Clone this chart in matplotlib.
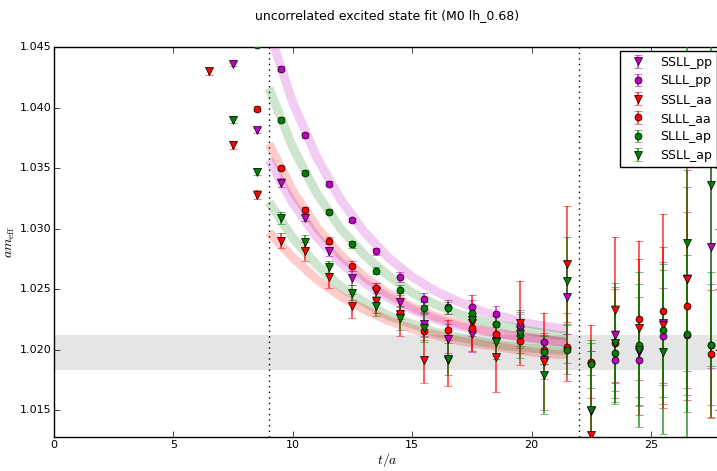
import numpy as np
import matplotlib
matplotlib.use('Agg')
import matplotlib.pyplot as plt

plt.style.use('classic')
plt.rcParams['font.family'] = ['DejaVu Sans']

nan = np.nan

# t/a values of the effective mass points
t = [6.5, 7.5, 8.5, 9.5, 10.5, 11.5, 12.5, 13.5, 14.5, 15.5, 16.5,
     17.5, 18.5, 19.5, 20.5, 21.5, 22.5, 23.5, 24.5, 25.5, 26.5, 27.5]

ssll_pp = [nan, 1.0436, 1.0381, 1.0338, 1.0309, 1.0281, 1.0259, 1.0248, 1.0239, 1.0221, 1.0209,
           1.0213, 1.0207, 1.0216, 1.0191, 1.0243, 1.0149, 1.0212, 1.0198, 1.0222, 1.0258, 1.0285]
ssll_pp_err = [nan, 0.0002, 0.0002, 0.0004, 0.0003, 0.0004, 0.0006, 0.0007, 0.0009, 0.0010, 0.0012,
               0.0015, 0.0012, 0.0015, 0.0015, 0.0030, 0.0050, 0.0040, 0.0045, 0.0050, 0.0076, 0.0100]

slll_pp = [nan, nan, nan, 1.0432, 1.0377, 1.0337, 1.0307, 1.0281, 1.0260, 1.0242, 1.0235,
           1.0235, 1.0229, 1.0220, 1.0206, 1.0201, 1.0189, 1.0191, 1.0191, 1.0211, 1.0212, 1.0204]
slll_pp_err = [nan, nan, nan, 0.0002, 0.0002, 0.0002, 0.0002, 0.0003, 0.0004, 0.0005, 0.0006,
               0.0006, 0.0007, 0.0009, 0.0008, 0.0012, 0.0010, 0.0025, 0.0030, 0.0040, 0.0050, 0.0050]

ssll_aa = [1.0430, 1.0369, 1.0328, 1.0290, 1.0281, 1.0260, 1.0236, 1.0240, 1.0229, 1.0191, 1.0191,
           1.0222, 1.0194, 1.0222, 1.0190, 1.0271, 1.0129, 1.0233, 1.0218, 1.0220, 1.0258, nan]
ssll_aa_err = [0.0003, 0.0003, 0.0004, 0.0006, 0.0008, 0.0009, 0.0010, 0.0010, 0.0018, 0.0019, 0.0021,
               0.0023, 0.0029, 0.0035, 0.0040, 0.0048, 0.0060, 0.0060, 0.0072, 0.0065, 0.0090, nan]

slll_aa = [nan, nan, 1.0399, 1.0350, 1.0315, 1.0290, 1.0269, 1.0251, 1.0230, 1.0215, 1.0216,
           1.0218, 1.0213, 1.0207, 1.0200, 1.0202, 1.0190, 1.0205, 1.0225, 1.0232, 1.0236, 1.0196]
slll_aa_err = [nan, nan, 0.0002, 0.0002, 0.0003, 0.0003, 0.0004, 0.0004, 0.0005, 0.0007, 0.0008,
               0.0007, 0.0008, 0.0010, 0.0012, 0.0028, 0.0030, 0.0045, 0.0050, 0.0080, 0.0078, 0.0053]

slll_ap = [nan, nan, 1.0452, 1.0390, 1.0346, 1.0314, 1.0287, 1.0265, 1.0249, 1.0234, 1.0234,
           1.0230, 1.0221, 1.0212, 1.0198, 1.0200, 1.0188, 1.0197, 1.0204, 1.0216, 1.0213, 1.0204]
slll_ap_err = [nan, nan, 0.0002, 0.0002, 0.0002, 0.0002, 0.0003, 0.0003, 0.0004, 0.0005, 0.0005,
               0.0006, 0.0007, 0.0009, 0.0010, 0.0020, 0.0020, 0.0040, 0.0050, 0.0055, 0.0065, 0.0060]

ssll_ap = [nan, 1.0390, 1.0347, 1.0309, 1.0289, 1.0268, 1.0247, 1.0236, 1.0226, 1.0218, 1.0192,
           1.0224, 1.0206, 1.0213, 1.0179, 1.0257, 1.0150, 1.0205, 1.0200, 1.0198, 1.0288, 1.0336]
ssll_ap_err = [nan, 0.0003, 0.0003, 0.0005, 0.0006, 0.0005, 0.0006, 0.0008, 0.0010, 0.0012, 0.0013,
               0.0010, 0.0014, 0.0020, 0.0032, 0.0036, 0.0055, 0.0050, 0.0064, 0.0068, 0.0170, 0.0150]

# fit curves (band centres) in the fit window
t_fit = [9, 10, 11, 12, 13, 14, 15, 16, 17, 18, 19, 20, 21, 21.5]
fit_slll_pp = [1.0463, 1.0404, 1.0359, 1.0324, 1.0297, 1.0276, 1.0260, 1.0248, 1.0239, 1.0231, 1.0226, 1.0221, 1.0218, 1.0217]
fit_slll_ap = [1.0416, 1.0367, 1.0329, 1.0300, 1.0278, 1.0261, 1.0247, 1.0237, 1.0229, 1.0223, 1.0219, 1.0215, 1.0212, 1.0211]
fit_slll_aa = [1.0370, 1.0331, 1.0301, 1.0278, 1.0260, 1.0246, 1.0235, 1.0227, 1.0221, 1.0216, 1.0212, 1.0210, 1.0207, 1.0206]
fit_ssll_pp = [1.0357, 1.0321, 1.0293, 1.0272, 1.0255, 1.0243, 1.0233, 1.0225, 1.0219, 1.0215, 1.0212, 1.0209, 1.0207, 1.0206]
fit_ssll_ap = [1.0322, 1.0292, 1.0270, 1.0252, 1.0239, 1.0228, 1.0221, 1.0214, 1.0210, 1.0206, 1.0203, 1.0201, 1.0200, 1.0199]
fit_ssll_aa = [1.0297, 1.0276, 1.0258, 1.0244, 1.0233, 1.0224, 1.0217, 1.0212, 1.0207, 1.0204, 1.0201, 1.0198, 1.0196, 1.0196]

# ground state band
E_lo, E_hi = 1.0183, 1.0212
t_min, t_max = 9, 22

fig = plt.figure(figsize=(7.17, 4.71), dpi=100, facecolor='white')
ax = fig.add_axes([54 / 717, 34 / 471, 667 / 717, 390 / 471])

ax.axhspan(E_lo, E_hi, color='0.5', alpha=0.2, lw=0, zorder=0)

for yy, c in [(fit_slll_pp, 'm'), (fit_slll_ap, 'g'), (fit_slll_aa, 'r'),
              (fit_ssll_pp, 'm'), (fit_ssll_ap, 'g'), (fit_ssll_aa, 'r')]:
    ax.plot(t_fit, yy, color=c, lw=6.5, alpha=0.2, solid_capstyle='butt',
            solid_joinstyle='round', zorder=1)

series = [
    (ssll_pp, ssll_pp_err, 'v', 'm', 'SSLL_pp'),
    (slll_pp, slll_pp_err, 'o', 'm', 'SLLL_pp'),
    (ssll_aa, ssll_aa_err, 'v', 'r', 'SSLL_aa'),
    (slll_aa, slll_aa_err, 'o', 'r', 'SLLL_aa'),
    (slll_ap, slll_ap_err, 'o', 'g', 'SLLL_ap'),
    (ssll_ap, ssll_ap_err, 'v', 'g', 'SSLL_ap'),
]
for yy, ee, m, c, lab in series:
    ms = 6 if m == 'v' else 5
    eb = ax.errorbar(t, yy, yerr=ee, fmt=m, color=c, mfc=c, mec='k', ms=ms,
                     ecolor=c, elinewidth=1.2, capsize=3, label=lab, zorder=3)
    for cap in eb[1]:
        cap.set_alpha(0.75)
    for bl in eb[2]:
        bl.set_alpha(0.75)

ax.axvline(t_min, color='k', ls=':', lw=1, zorder=2)
ax.axvline(t_max, color='k', ls=':', lw=1, zorder=2)

ax.set_xlim(0, 667 / 23.88)
ax.set_ylim(1.01277, 1.045)
ax.set_xticks([0, 5, 10, 15, 20, 25])
ax.set_yticks([1.015, 1.020, 1.025, 1.030, 1.035, 1.040, 1.045])
ax.yaxis.set_major_formatter(matplotlib.ticker.FormatStrFormatter('%.3f'))
ax.tick_params(labelsize=8, pad=2)
ax.set_xlabel(r'$t/a$', fontsize=10, labelpad=1)
ax.set_ylabel(r'$am_{\rm eff}$', fontsize=10, labelpad=2)
ax.set_title('uncorrelated excited state fit (M0 lh_0.68)', fontsize=9, y=1.055)

ax.legend(loc='upper right', numpoints=1, fontsize=9, borderaxespad=0.3,
          handlelength=2.0, labelspacing=0.45)

fig.savefig('out.png', dpi=100, facecolor='white')
